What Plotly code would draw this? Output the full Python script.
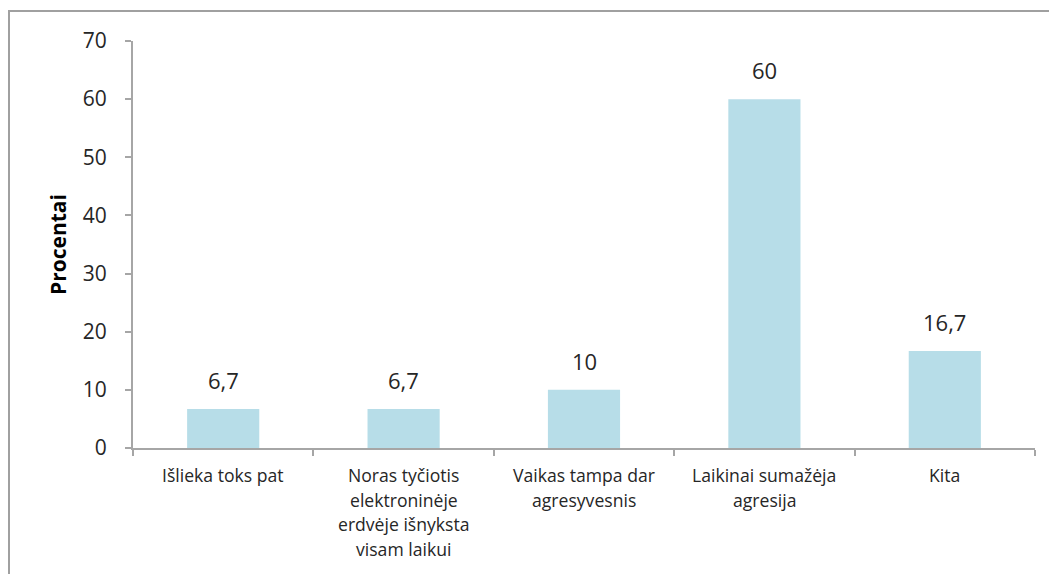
import plotly.graph_objects as go

categories = [
    "Išlieka toks pat",
    "Noras tyčiotis\nelektroninėje\nerdvėje išnyksta\nvisam laikui",
    "Vaikas tampa dar\nagresyvesnis",
    "Laikinai sumažėja\nagresija",
    "Kita",
]
values = [6.7, 6.7, 10, 60, 16.7]
y_ticks = [0, 10, 20, 30, 40, 50, 60, 70]
y_title = "Procentai"

FONT = "Open Sans"
TXT = "#262626"
AX = "#a6a6a6"

fig = go.Figure()
fig.add_trace(go.Bar(
    x=list(range(len(categories))),
    y=values,
    marker=dict(color="#b7dde8", line=dict(width=0)),
    width=0.4,
    hoverinfo="skip",
))

annotations = []
for i, v in enumerate(values):
    annotations.append(dict(
        x=i, y=v, xref="x", yref="y", text=f"{v:g}".replace(".", ","),
        showarrow=False, yanchor="bottom", yshift=12,
        font=dict(family=FONT, size=22, color=TXT),
    ))
for i, c in enumerate(categories):
    for j, line in enumerate(c.split("\n")):
        annotations.append(dict(
            x=i, y=0, xref="x", yref="paper", text=line,
            showarrow=False, yanchor="middle", yshift=-27 - 24.5 * j,
            font=dict(family=FONT, size=17.6, color=TXT),
        ))

fig.update_layout(
    width=1057, height=574,
    margin=dict(l=125, r=30, t=33, b=134),
    paper_bgcolor="white", plot_bgcolor="white",
    showlegend=False,
    annotations=annotations,
    shapes=[dict(type="rect", xref="paper", yref="paper",
                 x0=-124 / 902, x1=1.2, y0=-0.5, y1=1 + 30 / 407,
                 line=dict(color="#a0a0a0", width=2), layer="below")],
    xaxis=dict(
        range=[-0.5, len(categories) - 0.5],
        tickmode="array", tickvals=[i - 0.5 for i in range(len(categories) + 1)],
        showticklabels=False,
        ticks="outside", ticklen=6, tickcolor=AX, tickwidth=2,
        showline=True, linecolor=AX, linewidth=2,
        showgrid=False, zeroline=False, fixedrange=True,
    ),
    yaxis=dict(
        range=[0, 70], tickmode="array", tickvals=y_ticks,
        ticks="outside", ticklen=6, tickcolor=AX, tickwidth=2,
        ticklabelstandoff=14,
        tickfont=dict(family=FONT, size=21, color=TXT),
        showline=True, linecolor=AX, linewidth=2,
        showgrid=False, zeroline=False,
        title=dict(text=f"<b>{y_title}</b>", font=dict(family=FONT, size=21, color="#000000"), standoff=10),
    ),
)

fig.write_html("out.html")
